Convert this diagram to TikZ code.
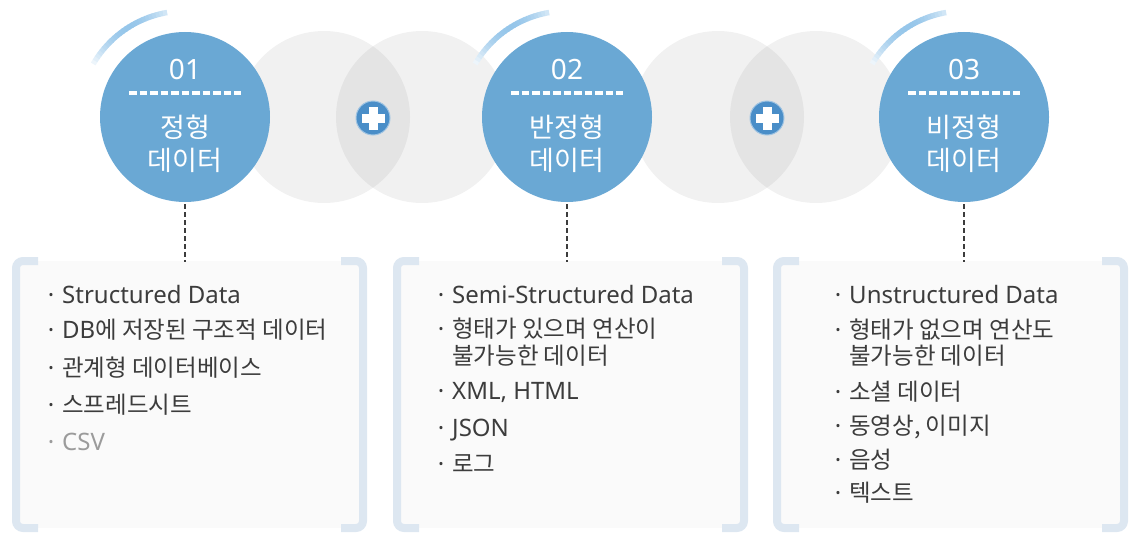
\documentclass[tikz,border=0pt]{standalone}
\usepackage{fontspec}
\setmainfont{Noto Sans}
\newfontfamily\krfont{Noto Sans CJK KR}
\usetikzlibrary{calc}

\definecolor{circblue}{RGB}{106,168,212}
\definecolor{plusblue}{RGB}{74,142,200}
\definecolor{plusring}{RGB}{160,196,226}
\definecolor{bracketc}{RGB}{221,231,241}
\definecolor{panelbg}{RGB}{250,250,250}
\definecolor{itemtxt}{RGB}{60,60,60}
\definecolor{fadetxt}{RGB}{155,155,155}
\definecolor{arcblue}{RGB}{150,198,234}
\definecolor{connc}{RGB}{60,60,60}

% Latin words inside the Korean item lines
\newcommand\en[1]{{\rmfamily\fontsize{24}{28}\selectfont #1}}

\tikzset{
  bigcirc/.style={circle, fill=circblue, minimum size=170pt, inner sep=0pt},
  plusdisk/.style={circle, fill=plusblue, draw=plusring, line width=1pt, minimum size=34pt, inner sep=0pt},
  numlabel/.style={anchor=base, inner sep=0pt, text=white, font=\fontsize{28}{32}\selectfont},
  ttllabel/.style={anchor=base, inner sep=0pt, text=white, font=\krfont\fontsize{27}{30}\selectfont},
  numrule/.style={white, line width=3.5pt, dash pattern=on 7.5pt off 3pt},
  conn/.style={connc, line width=2.5pt, dash pattern=on 5pt off 3pt, shorten <=2pt},
  bracket/.style={bracketc, line width=8pt, rounded corners=7pt},
  item/.style={anchor=base west, inner sep=0pt, text=itemtxt, font=\krfont\fontsize{23.5}{28}\selectfont},
  dot/.style={anchor=base, inner sep=0pt, text=itemtxt, font=\fontsize{24}{28}\selectfont},
}

% bullet + text line: name, x, baseline y, text
\newcommand\bulletline[5][itemtxt]{%
  \node[dot, text=#1] (#2d) at ({#3-11},#4) {·};
  \node[item, text=#1] (#2) at (#3,#4) {#5};}

\begin{document}
\begin{tikzpicture}[x=1pt,y=-1pt]
\useasboundingbox (0,0) rectangle (1131,535);

% soft grey rings between the steps
\foreach \gx in {324,422,718,816}
  \fill[black, opacity=0.055] (\gx,117) circle[radius=86pt];

% step circles
\node[bigcirc] (c1) at (185,117) {};
\node[bigcirc] (c2) at (567,117) {};
\node[bigcirc] (c3) at (964,117) {};

% fading highlight arcs on the upper left of each circle
\foreach \cc in {c1,c2,c3}{
  \foreach \i in {0,...,24}{
    \pgfmathsetmacro\a{150-2*\i}
    \pgfmathsetmacro\k{100*sin(10+6*\i)}
    \draw[line width=5.5pt, arcblue!\k!white]
      ($(\cc)+(\a:106pt)$) arc[start angle=\a, end angle=\a-2.3, radius=106pt];
  }
}

% circle labels
\foreach \cc/\num/\ta in {c1/01/정형, c2/02/반정형, c3/03/비정형}{
  \node[numlabel] (\cc n) at ($(\cc)+(0,-38)$) {\num};
  \draw[numrule] ($(\cc)+(-56,-24)$) -- ($(\cc)+(56,-24)$);
  \node[ttllabel] (\cc a) at ($(\cc)+(0,20)$) {\ta};
  \node[ttllabel] (\cc b) at ($(\cc)+(0,53)$) {데이터};
}

% plus signs
\foreach \pp/\px in {pl1/373, pl2/767}{
  \node[plusdisk] (\pp) at (\px,118) {};
  \fill[white] ($(\pp)+(-11.5,-4.5)$) rectangle ($(\pp)+(11.5,4.5)$);
  \fill[white] ($(\pp)+(-4.5,-11.5)$) rectangle ($(\pp)+(4.5,11.5)$);
}

% panels with bracket edges
\foreach \L/\R in {16/363, 397/744, 777/1124}{
  \fill[panelbg] (\L,261) rectangle (\R,528);
  \draw[bracket] ({\L+22},261) -- (\L,261) -- (\L,528) -- ({\L+22},528);
  \draw[bracket] ({\R-22},261) -- (\R,261) -- (\R,528) -- ({\R-22},528);
}

% connectors from circles to panels
\coordinate (t1) at (185,262);
\coordinate (t2) at (567,262);
\coordinate (t3) at (964,262);
\draw[conn] (c1.south) -- (t1);
\draw[conn] (c2.south) -- (t2);
\draw[conn] (c3.south) -- (t3);

% panel 1
\bulletline{pa1}{62}{303.5}{\en{Structured Data}}
\bulletline{pa2}{62}{338.5}{\en{DB}에 저장된 구조적 데이터}
\bulletline{pa3}{62}{376.5}{관계형 데이터베이스}
\bulletline{pa4}{62}{413.5}{스프레드시트}
\bulletline[fadetxt]{pa5}{62}{450.5}{\en{CSV}}

% panel 2
\bulletline{pb1}{452}{303.5}{\en{Semi-Structured Data}}
\bulletline{pb2}{452}{337}{형태가 있으며 연산이}
\node[item] (pb2x) at (452,364) {불가능한 데이터};
\bulletline{pb3}{452}{399}{\en{XML, HTML}}
\bulletline{pb4}{452}{436}{\en{JSON}}
\bulletline{pb5}{452}{472}{로그}

% panel 3
\bulletline{pc1}{849}{303.5}{\en{Unstructured Data}}
\bulletline{pc2}{849}{338.5}{형태가 없으며 연산도}
\node[item] (pc2x) at (849,364.5) {불가능한 데이터};
\bulletline{pc3}{849}{400.5}{소셜 데이터}
\bulletline{pc4}{849}{434.5}{동영상, 이미지}
\bulletline{pc5}{849}{468.5}{음성}
\bulletline{pc6}{849}{501.5}{텍스트}
\end{tikzpicture}
\end{document}
